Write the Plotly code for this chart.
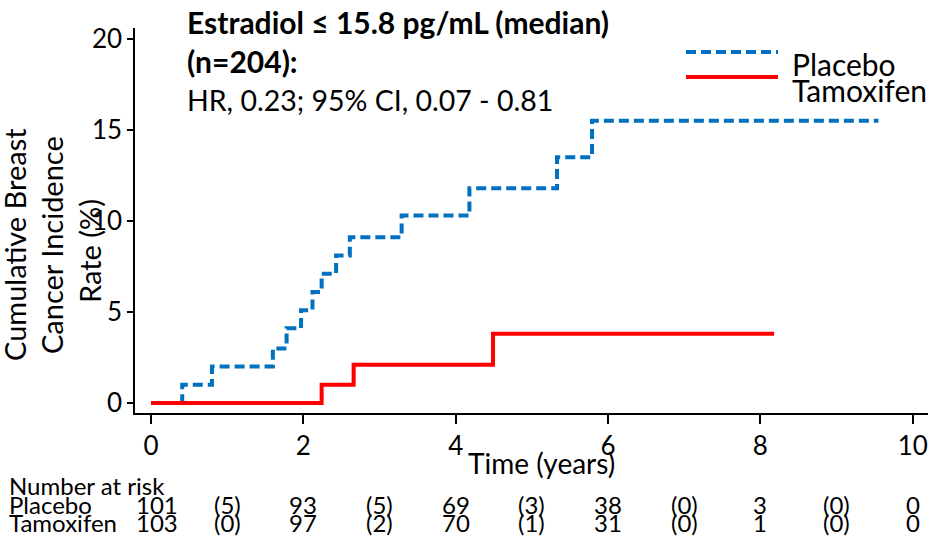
import plotly.graph_objects as go

# ---- data ----
placebo_t = [0, 0.41, 0.80, 1.60, 1.78, 1.97, 2.12, 2.24, 2.43, 2.61, 3.29, 4.18, 5.33, 5.79, 9.55]
placebo_y = [0, 1.0, 2.0, 3.0, 4.1, 5.1, 6.1, 7.1, 8.1, 9.1, 10.3, 11.8, 13.5, 15.5, 15.5]
tamox_t = [0, 2.24, 2.66, 4.49, 8.18]
tamox_y = [0, 1.0, 2.1, 3.8, 3.8]

risk_times = [0, 1, 2, 3, 4, 5, 6, 7, 8, 9, 10]
placebo_risk = ["101", "(5)", "93", "(5)", "69", "(3)", "38", "(0)", "3", "(0)", "0"]
tamox_risk = ["103", "(0)", "97", "(2)", "70", "(1)", "31", "(0)", "1", "(0)", "0"]

x_ticks = [0, 2, 4, 6, 8, 10]
y_ticks = [0, 5, 10, 15, 20]

title_l1 = "<b>Estradiol ≤ 15.8 pg/mL (median)</b>"
title_l2 = "<b>(n=204):</b>"
title_l3 = "HR, 0.23; 95% CI, 0.07 - 0.81"

BLUE = "#0070C0"
RED = "#FF0000"
FONT = "Lato"

W, H = 935, 536
L, R, T, B = 135, 928, 28, 413


def px(x):
    return (x - L) / (R - L)


def py(y):
    return (B - y) / (B - T)


fig = go.Figure()
fig.add_trace(go.Scatter(x=placebo_t, y=placebo_y, mode="lines", line_shape="hv",
                         line=dict(color=BLUE, width=4, dash="10px,5px"),
                         name="Placebo", showlegend=False))
fig.add_trace(go.Scatter(x=tamox_t, y=tamox_y, mode="lines", line_shape="hv",
                         line=dict(color=RED, width=4),
                         name="Tamoxifen", showlegend=False))

ann = []
# title block
ann.append(dict(text=title_l1, x=px(185), y=py(22), font=dict(size=30)))
ann.append(dict(text=title_l2, x=px(185), y=py(61), font=dict(size=30)))
ann.append(dict(text=title_l3, x=px(185), y=py(100), font=dict(size=28.5)))
# legend text
ann.append(dict(text="Placebo", x=px(790), y=py(64), font=dict(size=30)))
ann.append(dict(text="Tamoxifen", x=px(790), y=py(90), font=dict(size=30)))
# y-axis title (three rotated lines)
for txt, cx, cy in [("Cumulative Breast", 14, 245), ("Cancer Incidence", 51, 245), ("Rate (%)", 89, 251)]:
    ann.append(dict(text=txt, x=px(cx), y=py(cy), textangle=-90, xanchor="center",
                    font=dict(size=29)))
# x-axis title
ann.append(dict(text="Time (years)", x=px(541), y=py(463), xanchor="center", font=dict(size=28)))
# risk table
ann.append(dict(text="Number at risk", x=px(7), y=py(485), font=dict(size=24)))
ann.append(dict(text="Placebo", x=px(7), y=py(504), font=dict(size=24)))
ann.append(dict(text="Tamoxifen", x=px(7), y=py(522), font=dict(size=24)))
for t, pv, tv in zip(risk_times, placebo_risk, tamox_risk):
    shift = 6 if t == 0 else 0
    ann.append(dict(text=pv, x=t, xref="x", y=py(504), xanchor="center", xshift=shift,
                    font=dict(size=24)))
    ann.append(dict(text=tv, x=t, xref="x", y=py(522), xanchor="center", xshift=shift,
                    font=dict(size=24)))

annotations = []
for a in ann:
    base = dict(xref="paper", yref="paper", showarrow=False, xanchor="left", yanchor="middle")
    f = a.pop("font")
    base.update(a)
    base["font"] = dict(family=FONT, color="black", size=f["size"])
    annotations.append(base)

shapes = [
    dict(type="line", xref="paper", yref="paper", x0=px(686), x1=px(778), y0=py(52), y1=py(52),
         line=dict(color=BLUE, width=4, dash="10px,5px")),
    dict(type="line", xref="paper", yref="paper", x0=px(686), x1=px(778), y0=py(77), y1=py(77),
         line=dict(color=RED, width=4)),
]

fig.update_layout(
    width=W, height=H,
    margin=dict(l=L, r=W - R, t=T, b=H - B, pad=0),
    paper_bgcolor="white", plot_bgcolor="white",
    font=dict(family=FONT, color="black"),
    showlegend=False,
    annotations=annotations,
    shapes=shapes,
    xaxis=dict(range=[-0.21, 10.2], tickvals=x_ticks, showgrid=False, zeroline=False,
               showline=True, linecolor="black", linewidth=1.5,
               ticks="outside", ticklen=9, tickwidth=1.5, tickcolor="black",
               tickfont=dict(size=26, family=FONT, color="black")),
    yaxis=dict(range=[-0.55, 20.6], tickvals=y_ticks, showgrid=False, zeroline=False,
               showline=True, linecolor="black", linewidth=1.5,
               ticks="outside", ticklen=6, tickwidth=1.5, tickcolor="black",
               tickfont=dict(size=26, family=FONT, color="black")),
)

fig.write_html("out.html")
